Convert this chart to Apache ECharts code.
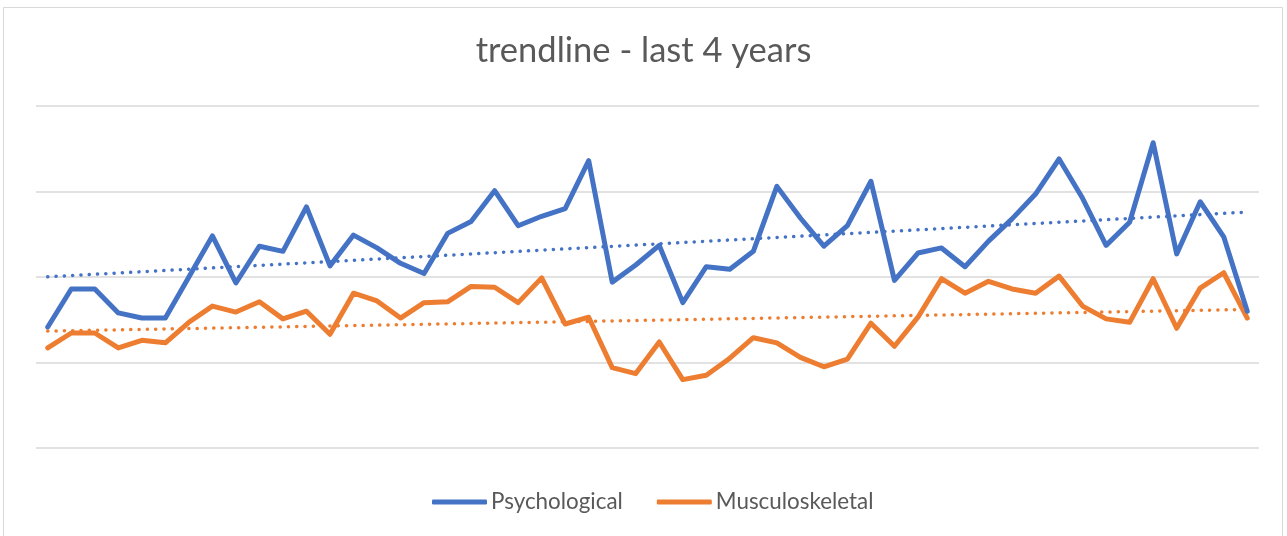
<!DOCTYPE html>
<html>
<head>
<meta charset="utf-8">
<script src="https://cdn.jsdelivr.net/npm/echarts@6/dist/echarts.min.js"></script>
<style>html,body{margin:0;padding:0;background:#fff}#c{width:1287px;height:536px}</style>
</head>
<body>
<div id="c"></div>
<script>
var categories = ['1','2','3','4','5','6','7','8','9','10','11','12','13','14','15','16','17','18','19','20','21','22','23','24','25','26','27','28','29','30','31','32','33','34','35','36','37','38','39','40','41','42','43','44','45','46','47','48','49','50','51','52'];
var psychological = [14.15,18.6,18.6,15.8,15.2,15.2,20.0,24.8,19.3,23.6,23.0,28.2,21.3,24.9,23.4,21.6,20.4,25.1,26.5,30.1,26.0,27.1,28.0,33.6,19.4,21.4,23.7,17.0,21.2,20.9,23.0,30.6,26.9,23.6,26.0,31.2,19.6,22.8,23.4,21.2,24.2,26.8,29.7,33.8,29.2,23.7,26.4,35.7,22.7,28.8,24.7,16.0];
var musculoskeletal = [11.7,13.45,13.45,11.7,12.6,12.3,14.7,16.6,15.9,17.1,15.1,16.0,13.3,18.1,17.2,15.2,17.0,17.1,18.9,18.8,17.0,19.9,14.5,15.3,9.4,8.7,12.4,8.0,8.5,10.5,12.9,12.3,10.6,9.5,10.4,14.6,11.9,15.3,19.8,18.1,19.5,18.6,18.1,20.1,16.6,15.1,14.7,19.8,14.0,18.7,20.5,15.2];
var yTicks = [0,10,20,30,40];

function trend(arr){
  var n = arr.length, sx=0, sy=0, sxy=0, sxx=0;
  for (var i=0;i<n;i++){ sx+=i; sy+=arr[i]; sxy+=i*arr[i]; sxx+=i*i; }
  var b = (n*sxy - sx*sy)/(n*sxx - sx*sx), a = (sy - b*sx)/n;
  return arr.map(function(_,i){ return +(a+b*i).toFixed(3); });
}

var BLUE = '#4472C4', ORANGE = '#ED7D31';
var chart = echarts.init(document.getElementById('c'));
chart.setOption({
  animation: false,
  backgroundColor: '#fff',
  title: {
    text: 'trendline - last 4 years',
    left: 'center', top: 28,
    textStyle: { fontFamily: 'Lato', fontSize: 34.5, fontWeight: 'normal', color: '#595959' }
  },
  graphic: [{
    type: 'rect', shape: { x: 3.5, y: 7.5, width: 1279, height: 540 },
    style: { fill: 'none', stroke: '#d9d9d9', lineWidth: 1 }, silent: true, z: -1
  }],
  legend: {
    data: ['Psychological', 'Musculoskeletal'],
    left: 427, top: 486,
    icon: 'roundRect', itemWidth: 55, itemHeight: 5, itemGap: 34,
    textStyle: { fontFamily: 'Lato', fontSize: 22.4, color: '#595959', padding: [0,0,0,-1] }
  },
  grid: { left: 36, right: 28, top: 106, bottom: 88 },
  xAxis: {
    type: 'category', data: categories, boundaryGap: true,
    axisLine: { show: false }, axisTick: { show: false }, axisLabel: { show: false }
  },
  yAxis: {
    type: 'value', min: yTicks[0], max: yTicks[yTicks.length-1], interval: 10,
    axisLine: { show: false }, axisTick: { show: false }, axisLabel: { show: false },
    splitLine: { lineStyle: { color: '#d9d9d9', width: 1.5 } }
  },
  series: [
    { name: 'Psychological', type: 'line', data: psychological, symbol: 'none',
      lineStyle: { color: BLUE, width: 5, join: 'round', cap: 'round' }, itemStyle: { color: BLUE }, z: 3 },
    { name: 'Musculoskeletal', type: 'line', data: musculoskeletal, symbol: 'none',
      lineStyle: { color: ORANGE, width: 5, join: 'round', cap: 'round' }, itemStyle: { color: ORANGE }, z: 2 },
    { name: 'Psychological trend', type: 'line', data: trend(psychological), symbol: 'none',
      lineStyle: { color: BLUE, width: 3.5, type: [0.1, 8.2], cap: 'round' }, z: 4 },
    { name: 'Musculoskeletal trend', type: 'line', data: trend(musculoskeletal), symbol: 'none',
      lineStyle: { color: ORANGE, width: 3.5, type: [0.1, 8.2], cap: 'round' }, z: 4 }
  ]
});
</script>
</body>
</html>
